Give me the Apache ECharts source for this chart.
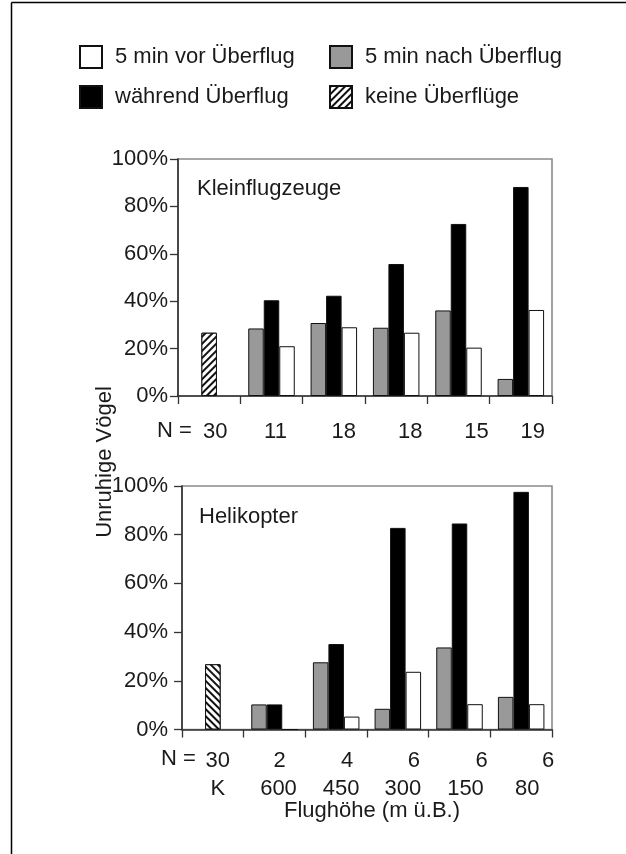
<!DOCTYPE html>
<html>
<head>
<meta charset="utf-8">
<script src="https://cdn.jsdelivr.net/npm/echarts@6/dist/echarts.min.js"></script>
<style>
  html, body { margin: 0; padding: 0; background: #fff; }
  #chart { width: 626px; height: 854px; }
</style>
</head>
<body>
<div id="chart"></div>
<script>
// Flight altitude categories (K = control, no overflights)
var heightLabels = ['K', '600', '450', '300', '150', '80'];

// Kleinflugzeuge: share of restless birds (%)
var planeBefore = [null, 21, 29, 26.7, 20.4, 36.3];
var planeDuring = [null, 40.4, 42.3, 55.7, 72.6, 88.2];
var planeAfter  = [null, 28.5, 30.8, 28.8, 36.1, 7.2];
var planeNone   = [26.7, null, null, null, null, null];
var planeN      = ['30', '11', '18', '18', '15', '19'];

// Helikopter: share of restless birds (%)
var heliBefore = [null, 0, 5.3, 23.7, 10.4, 10.4];
var heliDuring = [null, 10.3, 35.1, 82.8, 84.6, 97.6];
var heliAfter  = [null, 10.3, 27.6, 8.5, 33.7, 13.4];
var heliNone   = [26.8, null, null, null, null, null];
var heliN      = ['30', '2', '4', '6', '6', '6'];

var yTicks = [0, 20, 40, 60, 80, 100];

var S_BEFORE = '5 min vor Überflug';
var S_AFTER  = '5 min nach Überflug';
var S_DURING = 'während Überflug';
var S_NONE   = 'keine Überflüge';

var FONT = 'Liberation Sans, Arial, sans-serif';
var FS = 22;
var TXT = '#1a1a1a';

function dash(v) { return v === null ? '-' : v; }

// label offsets (px) of the count rows relative to the category centre
var planeNShift  = [6, 4, 10, 14, 18, 12];
var heliNShift   = [5, 5, 11, 16, 22, 27];
var heightShift  = [5, 4, 5, 5, 6, 6];

function shiftedRich(shifts) {
  var rich = {};
  shifts.forEach(function (s, i) {
    rich['s' + i] = {
      fontFamily: FONT, fontSize: FS, color: TXT, lineHeight: 24,
      padding: [0, 0, 0, 2 * s]
    };
  });
  return rich;
}
function shiftedFormatter(labels) {
  return function (value, idx) {
    return '{s' + idx + '|' + labels[idx] + '}';
  };
}

function hatch(rot) {
  return {
    symbol: 'rect',
    symbolSize: 1,
    dashArrayX: [[1, 0]],
    dashArrayY: [1.3, 2.6],
    rotation: rot,
    color: '#111',
    backgroundColor: '#fff'
  };
}

var barW = 15.5;
var border = { borderColor: '#111', borderWidth: 1 };

function barSeries(name, data, xi, color, stack, decal) {
  var s = {
    name: name,
    type: 'bar',
    xAxisIndex: xi,
    yAxisIndex: xi,
    data: data.map(dash),
    barWidth: barW,
    barGap: '0%',
    itemStyle: Object.assign({ color: color }, border),
    emphasis: { disabled: true },
    animation: false
  };
  if (stack) s.stack = stack;
  if (decal) s.itemStyle.decal = decal;
  return s;
}

function yAxis(gridIndex, margin) {
  return {
    type: 'value', gridIndex: gridIndex,
    min: yTicks[0], max: yTicks[yTicks.length - 1], interval: yTicks[1] - yTicks[0],
    axisLine: { show: true, lineStyle: { color: '#333', width: 1.6 } },
    axisTick: { show: true, length: 8, lineStyle: { color: '#333', width: 1.3 } },
    splitLine: { show: false },
    axisLabel: { formatter: '{value}%', margin: margin, fontFamily: FONT, fontSize: FS, color: TXT }
  };
}

function catAxis(gridIndex, labelOpts) {
  return Object.assign({
    type: 'category', gridIndex: gridIndex, data: heightLabels,
    boundaryGap: true,
    axisLine: { show: true, lineStyle: { color: '#333', width: 1.6 } },
    axisTick: { show: true, length: 8, inside: false, lineStyle: { color: '#333', width: 1.3 } }
  }, labelOpts);
}

var chart = echarts.init(document.getElementById('chart'), null, { renderer: 'canvas' });

var option = {
  backgroundColor: '#fff',
  animation: false,
  textStyle: { fontFamily: FONT },
  title: [
    { text: 'Kleinflugzeuge', left: 197, top: 178, padding: 0,
      textStyle: { fontFamily: FONT, fontSize: FS, fontWeight: 'normal', color: TXT } },
    { text: 'Helikopter', left: 199, top: 506, padding: 0,
      textStyle: { fontFamily: FONT, fontSize: FS, fontWeight: 'normal', color: TXT } }
  ],
  legend: [
    { data: [S_BEFORE, S_DURING], orient: 'vertical', left: 79, top: 45, padding: 0,
      itemWidth: 22, itemHeight: 22, itemGap: 16, icon: 'rect', selectedMode: false,
      textStyle: { fontFamily: FONT, fontSize: FS, color: TXT, padding: [0, 0, 0, 8] } },
    { data: [S_AFTER, S_NONE], orient: 'vertical', left: 329, top: 45, padding: 0,
      itemWidth: 22, itemHeight: 22, itemGap: 16, icon: 'rect', selectedMode: false,
      textStyle: { fontFamily: FONT, fontSize: FS, color: TXT, padding: [0, 0, 0, 8] } }
  ],
  grid: [
    { left: 178, top: 159, width: 374, height: 237, show: true, borderColor: '#8a8a8a', borderWidth: 1.6, backgroundColor: 'transparent' },
    { left: 182, top: 486, width: 370, height: 243.5, show: true, borderColor: '#8a8a8a', borderWidth: 1.6, backgroundColor: 'transparent' }
  ],
  xAxis: [
    catAxis(0, {
      axisLabel: { margin: 24, interval: 0, formatter: shiftedFormatter(planeN), rich: shiftedRich(planeNShift) }
    }),
    catAxis(1, {
      axisLabel: { margin: 19, interval: 0, formatter: shiftedFormatter(heliN), rich: shiftedRich(heliNShift) }
    }),
    {
      type: 'category', gridIndex: 1, data: heightLabels, position: 'bottom',
      axisLine: { show: false }, axisTick: { show: false },
      axisLabel: { margin: 47, interval: 0, formatter: shiftedFormatter(heightLabels), rich: shiftedRich(heightShift) },
      name: 'Flughöhe (m ü.B.)', nameLocation: 'middle', nameGap: 69,
      nameTextStyle: { fontFamily: FONT, fontSize: FS, color: TXT, padding: [0, 0, 0, 10] }
    }
  ],
  yAxis: [yAxis(0, 10), yAxis(1, 14), Object.assign(yAxis(1, 14), { show: false })],
  series: [
    barSeries(S_AFTER, planeAfter, 0, '#999999'),
    barSeries(S_DURING, planeDuring, 0, '#000000', 'mid0'),
    barSeries(S_NONE, planeNone, 0, '#ffffff', 'mid0', hatch(-Math.PI / 4)),
    barSeries(S_BEFORE, planeBefore, 0, '#ffffff'),

    barSeries(S_AFTER, heliAfter, 1, '#999999'),
    barSeries(S_DURING, heliDuring, 1, '#000000', 'mid1'),
    barSeries(S_NONE, heliNone, 1, '#ffffff', 'mid1', hatch(Math.PI / 4)),
    barSeries(S_BEFORE, heliBefore, 1, '#ffffff')
  ],
  graphic: [
    // page frame (top and left edge)
    { type: 'line', shape: { x1: 11.5, y1: 2.5, x2: 626, y2: 2.5 }, style: { stroke: '#000', lineWidth: 1.5 } },
    { type: 'line', shape: { x1: 11.5, y1: 2.5, x2: 11.5, y2: 854 }, style: { stroke: '#000', lineWidth: 1.5 } },
    // count row prefixes
    { type: 'text', left: 157, top: 420, style: { text: 'N =', font: FS + 'px ' + FONT, fill: TXT } },
    { type: 'text', left: 161, top: 748, style: { text: 'N =', font: FS + 'px ' + FONT, fill: TXT } },
    // shared value axis title
    { type: 'text', x: 94, y: 462, rotation: Math.PI / 2,
      style: { text: 'Unruhige Vögel', font: FS + 'px ' + FONT, fill: TXT, align: 'center', verticalAlign: 'top' } }
  ]
};

chart.setOption(option);
</script>
</body>
</html>
